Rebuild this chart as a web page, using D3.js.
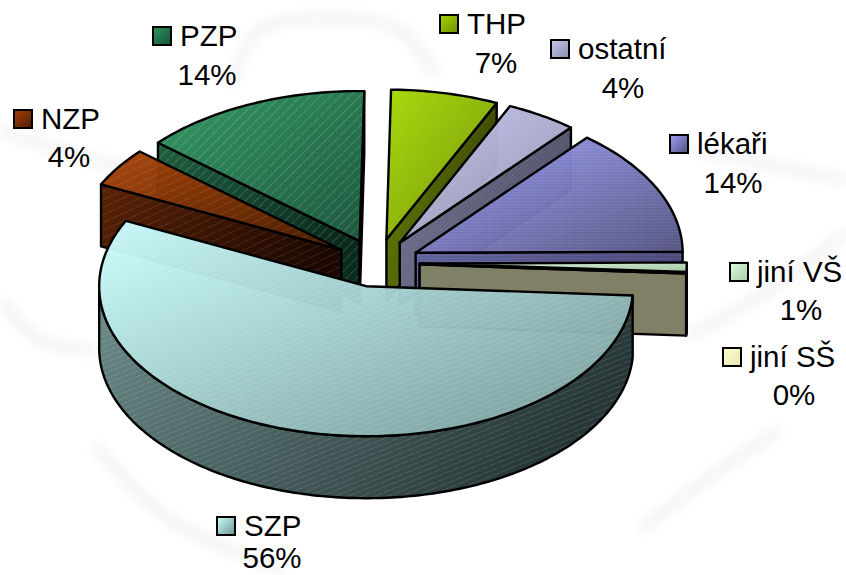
<!DOCTYPE html>
<html><head><meta charset="utf-8">
<script src="https://cdn.jsdelivr.net/npm/d3@7/dist/d3.min.js"></script>
<style>html,body{margin:0;background:#fff}svg{display:block}text{font-family:"Liberation Sans",Arial,sans-serif;font-size:29.5px;fill:#000}</style>
</head><body><svg id="c" width="846" height="575"></svg>
<script>
const categories=["THP","ostatní","lékaři","jiní VŠ","jiní SŠ","SZP","NZP","PZP"];
const values=[6.5,4.3,13.8,1.0,0.1,56.2,4.2,13.9];
const topLight=["#a4d800","#c8c8f0","#a0a0fa","#e0fae0","#ffffcc","#ccffff","#a84206","#2f9660"];
const topDark=["#708e00","#8c8cac","#50507e","#a8cca8","#e6e6b0","#6f9392","#4a1c00","#155238"];
const wallLight=["#5f7800","#70708e","#62629c","#80a080","#808066","#6c8c8a","#5a2206","#1f5f40"];
const wallDark=["#3a4600","#50506a","#48487a","#6a8a6a","#808066","#263636","#1c0800","#0a2a1c"];
const hatchAngle=[-50,-45,0,0,0,-22,-25,-45];
const hatchGap=[3,3,3,3,3,5,7,7];
const hatchAlpha=[.1,.12,.1,0,0,.18,.15,.25];
const drawOrder=[0,1,2,3,4,7,6,5];
const labelX=[467,578,697,757,750,244,41,180];
const labelBase=[34,59,154,282,367,536,129,46];
const pctCx=[496,623,733,801,794,272,69,207];
const pctBase=[73,98,193,320,405,568,167,85];

const svg=d3.select("#c"),W=846,H=575;
const cx=377,cy=263,rx=267,ry=150,depth=62,explode=0.16,rot=Math.PI/180;
const px=d3.scaleLinear().domain([-1,1]).range([cx-rx,cx+rx]);
const py=d3.scaleLinear().domain([-1,1]).range([cy-ry,cy+ry]);
const pie=d3.pie().sort(null).startAngle(rot).endAngle(rot+2*Math.PI);
const arcs=pie(values);
const defs=svg.append("defs");

// faint watermark
defs.append("filter").attr("id","blur").append("feGaussianBlur").attr("stdDeviation",6);
const wm=svg.append("g").attr("fill","none").attr("stroke","#f3f3f3").attr("stroke-width",10).attr("filter","url(#blur)");
[[[0,130],[60,150],[150,175]],[[690,148],[770,165],[846,180]],[[690,335],[770,290],[846,232]],
 [[95,445],[170,520],[285,570]],[[230,85],[260,30],[330,18],[400,30],[435,75]],[[0,300],[40,340],[95,350]],
 [[640,530],[720,470],[780,430]]].forEach(p=>wm.append("path").attr("d",d3.line().curve(d3.curveCatmullRom)(p)));

categories.forEach((c,i)=>{
  const g=(id,a,b,x2,y2)=>{const lg=defs.append("linearGradient").attr("id",id).attr("x1",0).attr("y1",0).attr("x2",x2).attr("y2",y2);
    lg.append("stop").attr("offset",0).attr("stop-color",a);lg.append("stop").attr("offset",1).attr("stop-color",b);};
  g("top"+i,topLight[i],topDark[i],1,1);
  g("wall"+i,wallLight[i],wallDark[i],1,0.35);
  const pt=defs.append("pattern").attr("id","hatch"+i).attr("patternUnits","userSpaceOnUse")
    .attr("width",9).attr("height",hatchGap[i]).attr("patternTransform",`rotate(${hatchAngle[i]})`);
  pt.append("line").attr("x1",0).attr("x2",8).attr("y1",.5).attr("y2",.5).attr("stroke","#fff").attr("stroke-width",.7).attr("stroke-opacity",hatchAlpha[i]);
});

const line=d3.line();
const stroke=(s)=>s.attr("stroke","#000").attr("stroke-width",2.4).attr("stroke-linejoin","round");
function poly(layer,pts,fill,hatch,op){
  const d=line(pts)+"Z";
  layer.append("path").attr("d",d).attr("fill",fill).attr("fill-opacity",op);
  layer.append("path").attr("d",d).attr("fill",hatch);
  layer.append("path").attr("d",d).attr("fill","none").call(stroke);
}
const topOpacity=.97;
drawOrder.forEach(i=>{
  const a=arcs[i],mid=(a.startAngle+a.endAngle)/2;
  const ax=explode*rx*Math.sin(mid),ay=-explode*ry*Math.cos(mid);
  const P=(t,r=1,z=0)=>[px(r*Math.sin(t))+ax,py(-r*Math.cos(t))+ay+z];
  const layer=svg.append("g").attr("class","slice").attr("data-name",categories[i]);
  const wf=`url(#wall${i})`,hf=`url(#hatch${i})`;
  const face=t=>poly(layer,[P(t,0),P(t),P(t,1,depth),P(t,0,depth)],wf,hf,1);
  if(Math.cos(a.startAngle-Math.PI/2)<0)face(a.startAngle);
  if(Math.cos(a.endAngle+Math.PI/2)<0)face(a.endAngle);
  const s=Math.max(a.startAngle,Math.PI/2),e=Math.min(a.endAngle,1.5*Math.PI);
  if(e>s){
    const ts=d3.range(s,e,Math.PI/180).concat([e]);
    poly(layer,ts.map(t=>P(t)).concat(ts.slice().reverse().map(t=>P(t,1,depth))),wf,hf,1);
  }
  const ts=d3.range(a.startAngle,a.endAngle,Math.PI/180).concat([a.endAngle]);
  poly(layer,[P(a.startAngle,0)].concat(ts.map(t=>P(t))),`url(#top${i})`,hf,topOpacity);
});

const pct=d3.format(".0f");
categories.forEach((c,i)=>{
  const g=svg.append("g").attr("class","label");
  g.append("rect").attr("x",labelX[i]-27).attr("y",labelBase[i]-19).attr("width",18).attr("height",18)
   .attr("fill",`url(#top${i})`).attr("stroke","#000").attr("stroke-width",2);
  g.append("text").attr("x",labelX[i]).attr("y",labelBase[i]).text(c);
  g.append("text").attr("x",pctCx[i]).attr("y",pctBase[i]).attr("text-anchor","middle").text(pct(values[i])+"%");
});
</script></body></html>
